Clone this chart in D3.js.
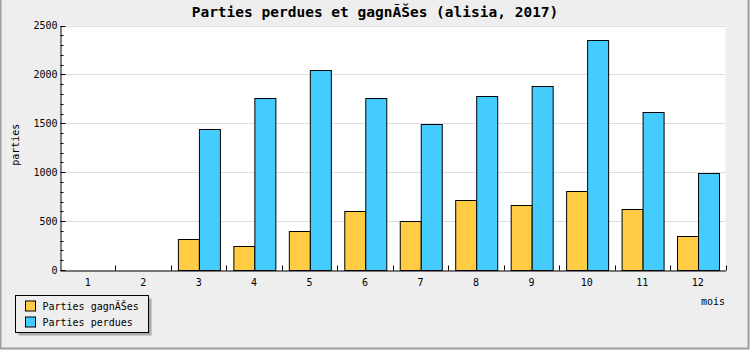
<!DOCTYPE html>
<html>
<head>
<meta charset="utf-8">
<script src="https://cdn.jsdelivr.net/npm/d3@7"></script>
<style>
  body { margin: 0; background: #fff; }
  svg { display: block; font-family: "DejaVu Sans Mono", "Liberation Mono", monospace; }
</style>
</head>
<body>
<svg id="chart" width="750" height="350"></svg>
<script>
let months = ["1", "2", "3", "4", "5", "6", "7", "8", "9", "10", "11", "12"]
let series = ["Parties gagnÃŠes", "Parties perdues"]
let won = [0, 0, 318, 246, 400, 605, 502, 717, 666, 810, 625, 348]
let lost = [0, 0, 1440, 1760, 2045, 1760, 1492, 1778, 1883, 2352, 1615, 992]
let yTicks = [0, 500, 1000, 1500, 2000, 2500]
let colors = ["#ffcc44", "#44ccff"]

let svg = d3.select("#chart")
let margin = { left: 60, right: 725.5, top: 25.5, bottom: 270 }
let mono = "'DejaVu Sans Mono', 'Liberation Mono', monospace"

// background + outer frame
svg.append("rect")
  .attr("x", 0).attr("y", 0).attr("width", 750).attr("height", 350)
  .attr("fill", "#eeeeee")
svg.append("rect")
  .attr("x", 0.5).attr("y", -1).attr("width", 748).attr("height", 349.5)
  .attr("fill", "none").attr("stroke", "#a0a0a0").attr("stroke-width", 2)

let x = d3.scaleBand().domain(months).range([margin.left, margin.right])
let x1 = d3.scaleBand().domain(series).range([0, x.bandwidth()]).paddingOuter(0.32)
let y = d3.scaleLinear().domain([0, 2500]).range([margin.bottom, margin.top])

// plot area
svg.append("rect")
  .attr("x", margin.left).attr("y", margin.top)
  .attr("width", margin.right - margin.left).attr("height", margin.bottom - margin.top)
  .attr("fill", "#ffffff")

// grid lines
svg.append("g")
  .selectAll("line")
  .data(yTicks.slice(1)).enter()
  .append("line")
  .attr("x1", margin.left).attr("x2", margin.right)
  .attr("y1", d => Math.round(y(d)) + 0.5).attr("y2", d => Math.round(y(d)) + 0.5)
  .attr("stroke", "#dddddd")

// bars
let rows = months.map((m, i) => ({ month: m, values: [won[i], lost[i]] }))
svg.append("g")
  .selectAll("g")
  .data(rows).enter()
  .append("g")
  .attr("transform", d => `translate(${x(d.month)},0)`)
  .selectAll("rect")
  .data(d => d.values.map((v, j) => ({ key: series[j], v: v, c: colors[j] })).filter(e => e.v > 0))
  .enter()
  .append("rect")
  .attr("x", d => Math.round(x1(d.key)) + 0.5)
  .attr("y", d => Math.round(y(d.v)) + 0.5)
  .attr("width", Math.round(x1.bandwidth()))
  .attr("height", d => Math.round(y(0)) - Math.round(y(d.v)))
  .attr("fill", d => d.c)
  .attr("stroke", "#000")

// y axis
let yAxis = d3.axisLeft(y).tickValues(yTicks).tickFormat(d3.format("d")).tickSize(0).tickPadding(3)
let gy = svg.append("g")
  .attr("transform", `translate(${margin.left + 0.5},0)`)
  .call(yAxis)
  .attr("font-family", mono)
gy.select(".domain").attr("stroke", "#000")
gy.selectAll("text").attr("font-size", 10).attr("fill", "#000")
gy.selectAll(".minor")
  .data(d3.range(0, 2501, 100)).enter()
  .append("line")
  .attr("x1", 0).attr("x2", d => d % 500 === 0 ? 5 : 3)
  .attr("y1", d => Math.round(y(d)) + 0.5).attr("y2", d => Math.round(y(d)) + 0.5)
  .attr("stroke", "#000")

// x axis
let xAxis = d3.axisBottom(x).tickSize(0).tickPadding(8)
let gx = svg.append("g")
  .attr("transform", `translate(0,${margin.bottom + 0.5})`)
  .call(xAxis)
  .attr("font-family", mono)
gx.select(".domain").attr("stroke", "#000")
gx.selectAll("text").attr("font-size", 10).attr("fill", "#000")
gx.selectAll(".bound")
  .data(months).enter()
  .append("line")
  .attr("x1", d => Math.round(x(d) + x.bandwidth()) + 0.5)
  .attr("x2", d => Math.round(x(d) + x.bandwidth()) + 0.5)
  .attr("y1", 0).attr("y2", -5)
  .attr("stroke", "#000")

// title and axis titles
svg.append("text")
  .attr("x", 375).attr("y", 17)
  .attr("text-anchor", "middle")
  .attr("font-size", 14.5).attr("font-weight", "bold")
  .text("Parties perdues et gagnÃŠes (alisia, 2017)")

svg.append("text")
  .attr("transform", `translate(19,${(margin.top + margin.bottom) / 2 - 3}) rotate(-90)`)
  .attr("text-anchor", "middle")
  .attr("font-size", 10)
  .text("parties")

svg.append("text")
  .attr("x", 725).attr("y", 305)
  .attr("text-anchor", "end")
  .attr("font-size", 10)
  .text("mois")

// legend
let legend = svg.append("g").attr("transform", "translate(15.5,295.5)")
legend.append("rect")
  .attr("x", 3).attr("y", 3).attr("width", 133).attr("height", 37)
  .attr("fill", "#aaaaaa")
legend.append("rect")
  .attr("width", 133).attr("height", 37)
  .attr("fill", "#eeeeee").attr("stroke", "#000")
let items = legend.selectAll(".item")
  .data(series).enter()
  .append("g")
  .attr("transform", (d, i) => `translate(10,${5.5 + i * 16})`)
items.append("rect")
  .attr("width", 10).attr("height", 10)
  .attr("fill", (d, i) => colors[i]).attr("stroke", "#000")
items.append("text")
  .attr("x", 17).attr("y", 9)
  .attr("font-size", 10)
  .text(d => d)
</script>
</body>
</html>
